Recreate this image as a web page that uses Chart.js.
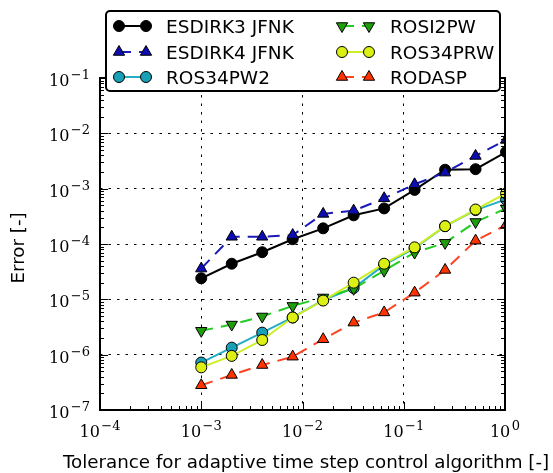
<!DOCTYPE html>
<html>
<head>
<meta charset="utf-8">
<script src="https://cdn.jsdelivr.net/npm/chart.js@4.4.1/dist/chart.umd.min.js"></script>
<style>
    body { margin: 0; background: #fff; }
    #wrap { width: 553px; height: 473px; }
</style>
</head>
<body>
<div id="wrap"><canvas id="erroTolerancia"></canvas></div>
<script>
// tolerances of the adaptive step control (x) and error per scheme (y)
var tolerances = [1e-3, 2e-3, 4e-3, 8e-3, 1.6e-2, 3.2e-2, 6.4e-2, 0.128, 0.256, 0.512, 1.024];
var esdirk3Jfnk = [2.4e-5, 4.4e-5, 7.1e-5, 1.22e-4, 1.92e-4, 3.3e-4, 4.4e-4, 9.5e-4, 2.2e-3, 2.25e-3, 4.6e-3];
var esdirk4Jfnk = [3.6e-5, 1.35e-4, 1.35e-4, 1.45e-4, 3.5e-4, 4.0e-4, 6.7e-4, 1.2e-3, 1.95e-3, 3.9e-3, 7.6e-3];
var ros34pw2 = [7.2e-7, 1.34e-6, 2.5e-6, 4.7e-6, 9.7e-6, 1.6e-5, 4.2e-5, 8.4e-5, 2.1e-4, 4.1e-4, 6.4e-4];
var rosi2pw = [2.7e-6, 3.5e-6, 4.9e-6, 7.6e-6, 1.08e-5, 1.55e-5, 3.3e-5, 7.0e-5, 1.05e-4, 2.5e-4, 4.4e-4];
var ros34prw = [5.9e-7, 9.5e-7, 1.84e-6, 4.7e-6, 9.5e-6, 2.0e-5, 4.4e-5, 8.7e-5, 2.1e-4, 4.2e-4, 8.2e-4];
var rodasp = [2.8e-7, 4.3e-7, 6.5e-7, 9.2e-7, 1.9e-6, 3.8e-6, 5.8e-6, 1.32e-5, 3.4e-5, 1.15e-4, 2.2e-4];

// decade tick labels, 10^exponent
var xTickExponents = [-4, -3, -2, -1, 0];
var yTickExponents = [-7, -6, -5, -4, -3, -2, -1];

var xTitle = 'Tolerance for adaptive time step control algorithm [-]';
var yTitle = 'Error [-]';

var titleFont = '18.3px "DejaVu Sans"';
var legendFont = '18.5px "DejaVu Sans"';

function isDecade(v) {
    var l = Math.log10(v);
    return Math.abs(l - Math.round(l)) < 1e-6;
}

// decades plus 2..9 minor ticks between them
function logTicks(exps) {
    var out = [];
    for (var i = 0; i < exps.length; i++) {
        var base = Math.pow(10, exps[i]);
        out.push({ value: base });
        if (i < exps.length - 1) {
            for (var k = 2; k <= 9; k++) out.push({ value: k * base });
        }
    }
    return out;
}

function serie(label, values, lineColor, markerColor, pointStyle, rotation, dash, radius, order) {
    return {
        label: label,
        data: values.map(function (v, i) { return { x: tolerances[i], y: v }; }),
        borderColor: lineColor,
        borderWidth: 2,
        borderDash: dash,
        pointStyle: pointStyle,
        pointRotation: rotation,
        pointRadius: radius,
        pointHoverRadius: radius,
        pointBackgroundColor: markerColor,
        pointBorderColor: '#000',
        pointBorderWidth: 1,
        fill: false,
        tension: 0,
        order: order
    };
}

var datasets = [
    serie('ESDIRK3 JFNK', esdirk3Jfnk, '#000000', '#000000', 'circle', 0, [], 5.5, 6),
    serie('ESDIRK4 JFNK', esdirk4Jfnk, '#1a1ab8', '#0c0cb0', 'triangle', 0, [12, 8], 6.5, 5),
    serie('ROS34PW2', ros34pw2, '#22aec6', '#18a0b6', 'circle', 0, [], 5.5, 4),
    serie('ROSI2PW', rosi2pw, '#22cc22', '#1f9e0c', 'triangle', 180, [12, 8], 6.5, 3),
    serie('ROS34PRW', ros34prw, '#ccee22', '#dcf014', 'circle', 0, [], 5.5, 2),
    serie('RODASP', rodasp, '#ff4422', '#ff3300', 'triangle', 0, [12, 8], 6.5, 1)
];

function drawPower(ctx, exp, x, baseline, align) {
    var baseFont = '16px "DejaVu Serif"';
    var supFont = '13px "DejaVu Serif"';
    var expText = (exp < 0 ? '\u2212' : '') + Math.abs(exp);
    ctx.font = baseFont;
    var wBase = ctx.measureText('10').width;
    ctx.font = supFont;
    var wSup = ctx.measureText(expText).width;
    var total = wBase + 1.5 + wSup;
    var left = align === 'center' ? x - total / 2 : x - total;
    ctx.textAlign = 'left';
    ctx.textBaseline = 'alphabetic';
    ctx.font = baseFont;
    ctx.fillText('10', left, baseline);
    ctx.font = supFont;
    ctx.fillText(expText, left + wBase + 1.5, baseline - 7);
}

var framePlugin = {
    id: 'framePlugin',
    afterDraw: function (chart) {
        var ctx = chart.ctx;
        var a = chart.chartArea;
        var xs = chart.scales.x, ys = chart.scales.y;
        ctx.save();
        ctx.fillStyle = '#000';
        ctx.strokeStyle = '#000';
        ctx.lineWidth = 1;

        // inward ticks on all four sides
        ctx.beginPath();
        xs.ticks.forEach(function (t) {
            var px = Math.round(xs.getPixelForValue(t.value)) + 0.5;
            var len = isDecade(t.value) ? 8 : 4;
            ctx.moveTo(px, a.bottom); ctx.lineTo(px, a.bottom - len);
            ctx.moveTo(px, a.top); ctx.lineTo(px, a.top + len);
        });
        ys.ticks.forEach(function (t) {
            var py = Math.round(ys.getPixelForValue(t.value)) + 0.5;
            var len = isDecade(t.value) ? 8 : 4;
            ctx.moveTo(a.left, py); ctx.lineTo(a.left + len, py);
            ctx.moveTo(a.right, py); ctx.lineTo(a.right - len, py);
        });
        ctx.stroke();

        ctx.lineWidth = 2;
        ctx.strokeRect(a.left, a.top, a.right - a.left, a.bottom - a.top);

        // tick labels
        xTickExponents.forEach(function (e) {
            drawPower(ctx, e, xs.getPixelForValue(Math.pow(10, e)), a.bottom + 27, 'center');
        });
        yTickExponents.forEach(function (e) {
            drawPower(ctx, e, a.left - 10, ys.getPixelForValue(Math.pow(10, e)) + 8, 'right');
        });

        // axis titles
        ctx.font = titleFont;
        ctx.textAlign = 'center';
        ctx.textBaseline = 'alphabetic';
        ctx.fillText(xTitle, 306, 468);
        ctx.save();
        ctx.translate(24, (a.top + a.bottom) / 2 + 4);
        ctx.rotate(-Math.PI / 2);
        ctx.fillText(yTitle, 0, 0);
        ctx.restore();

        // legend box, two columns of three
        var bx = 106, by = 11, bw = 394, bh = 80;
        ctx.beginPath();
        ctx.roundRect(bx, by, bw, bh, 4);
        ctx.fillStyle = '#fff';
        ctx.fill();
        ctx.lineWidth = 2;
        ctx.strokeStyle = '#000';
        ctx.stroke();

        var rows = [26, 52, 77];
        var cols = [{ m1: 119, m2: 146, tx: 166 }, { m1: 342, m2: 369, tx: 390 }];
        chart.data.datasets.forEach(function (ds, i) {
            var col = cols[Math.floor(i / 3)];
            var y = rows[i % 3];
            ctx.save();
            ctx.strokeStyle = ds.borderColor;
            ctx.lineWidth = ds.borderWidth;
            ctx.setLineDash(ds.borderDash);
            ctx.beginPath();
            ctx.moveTo(col.m1, y);
            ctx.lineTo(col.m2, y);
            ctx.stroke();
            ctx.restore();
            [col.m1, col.m2].forEach(function (mx) {
                ctx.fillStyle = ds.pointBackgroundColor;
                ctx.strokeStyle = '#000';
                ctx.lineWidth = 1;
                Chart.helpers.drawPoint(ctx, {
                    pointStyle: ds.pointStyle,
                    rotation: ds.pointRotation,
                    radius: ds.pointRadius,
                    borderWidth: 1
                }, mx, y);
            });
            ctx.fillStyle = '#000';
            ctx.font = legendFont;
            ctx.textAlign = 'left';
            ctx.fillText(ds.label, col.tx, y + 7);
        });
        ctx.restore();
    }
};

var ctx1 = document.getElementById('erroTolerancia').getContext('2d');
var grafico = new Chart(ctx1, {
    type: 'line',
    data: { datasets: datasets },
    options: {
        responsive: true,
        maintainAspectRatio: false,
        animation: false,
        events: [],
        layout: { padding: { left: 100, right: 48, top: 78, bottom: 63 } },
        plugins: { legend: { display: false }, tooltip: { enabled: false } },
        scales: {
            x: {
                type: 'logarithmic',
                min: 1e-4,
                max: 1,
                afterBuildTicks: function (s) { s.ticks = logTicks(xTickExponents); },
                ticks: { display: false },
                grid: {
                    color: function (c) { return c.tick && isDecade(c.tick.value) ? '#000' : 'rgba(0,0,0,0)'; },
                    lineWidth: 1,
                    drawTicks: false
                },
                border: { display: false, dash: [2.5, 6] }
            },
            y: {
                type: 'logarithmic',
                min: 1e-7,
                max: 1e-1,
                afterBuildTicks: function (s) { s.ticks = logTicks(yTickExponents); },
                ticks: { display: false },
                grid: {
                    color: function (c) { return c.tick && isDecade(c.tick.value) ? '#000' : 'rgba(0,0,0,0)'; },
                    lineWidth: 1,
                    drawTicks: false
                },
                border: { display: false, dash: [2.5, 6] }
            }
        }
    },
    plugins: [framePlugin]
});
</script>
</body>
</html>
